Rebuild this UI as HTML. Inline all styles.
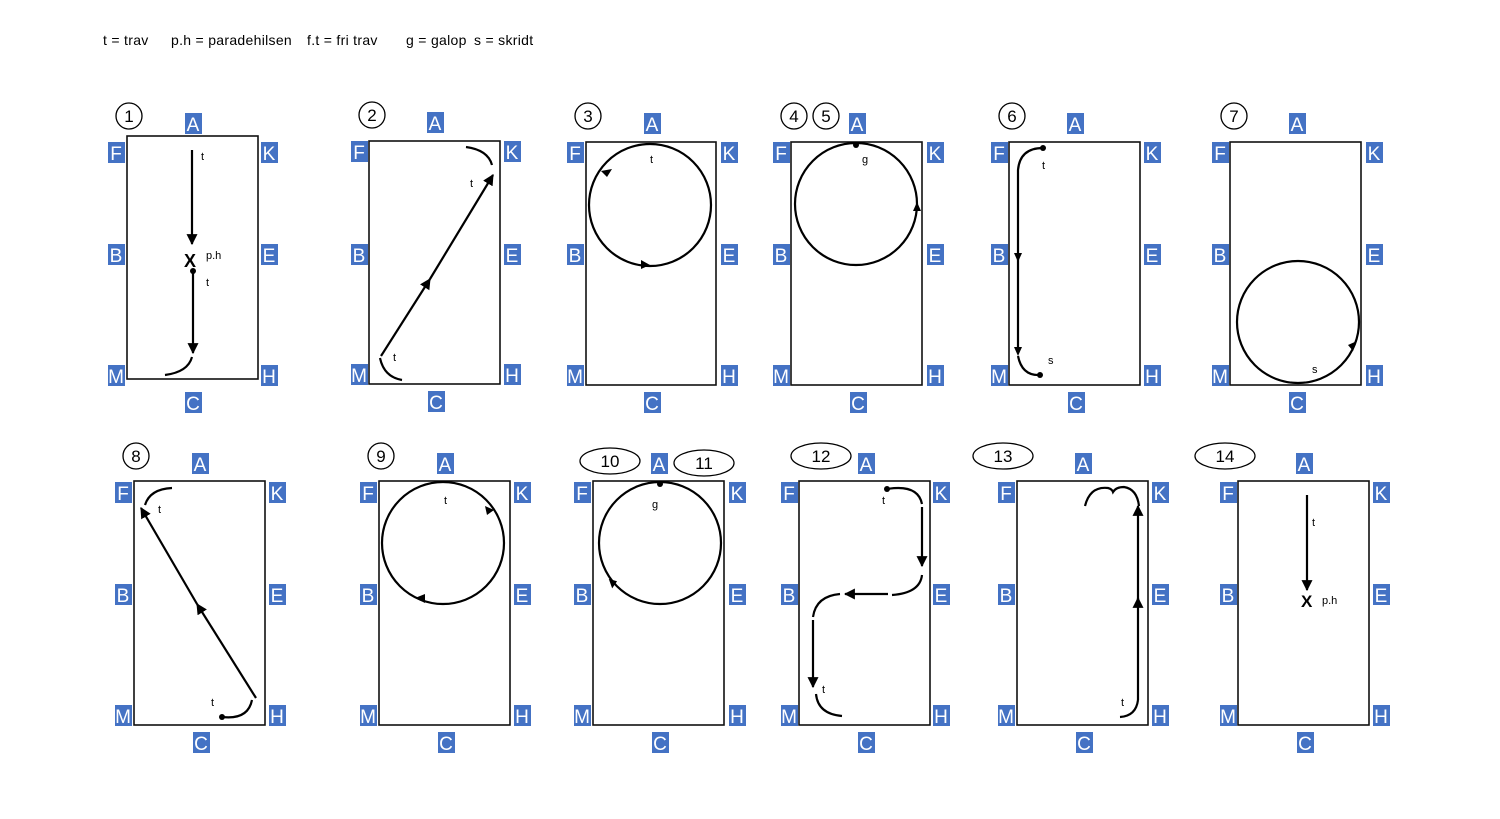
<!DOCTYPE html>
<html><head><meta charset="utf-8"><style>
html,body{margin:0;padding:0;background:#fff;width:1500px;height:819px;overflow:hidden}
svg{display:block}
.L rect{fill:#4472C4}
.L text{fill:#fff;font:19px "Liberation Sans",sans-serif;text-anchor:middle}
.s{fill:none;stroke:#000;stroke-width:2.2}
.r{fill:none;stroke:#111;stroke-width:1.6}
.t{font:11px "Liberation Sans",sans-serif;fill:#000}
.n{font:17px "Liberation Sans",sans-serif;text-anchor:middle}
</style></head><body>
<svg width="1500" height="819" viewBox="0 0 1500 819" xmlns="http://www.w3.org/2000/svg">
<defs>
<marker id="ar" viewBox="0 0 10 10" refX="9" refY="5" markerWidth="5" markerHeight="5" orient="auto"><path d="M0,0 L10,5 L0,10z" fill="#000"/></marker>
</defs>
<g font-family="Liberation Sans, sans-serif" font-size="14" letter-spacing="0.3">
<text x="103" y="45">t = trav</text>
<text x="171" y="45">p.h = paradehilsen</text>
<text x="307" y="45">f.t = fri trav</text>
<text x="406" y="45">g = galop</text>
<text x="474" y="45">s = skridt</text>
</g>

<!-- rectangles -->
<rect class="r" x="127" y="136" width="131" height="243"/>
<rect class="r" x="369" y="141" width="131" height="243"/>
<rect class="r" x="586" y="142" width="130" height="243"/>
<rect class="r" x="791" y="142" width="131" height="243"/>
<rect class="r" x="1009" y="142" width="131" height="243"/>
<rect class="r" x="1230" y="142" width="131" height="243"/>
<rect class="r" x="134" y="481" width="131" height="244"/>
<rect class="r" x="379" y="481" width="131" height="244"/>
<rect class="r" x="593" y="481" width="131" height="244"/>
<rect class="r" x="799" y="481" width="131" height="244"/>
<rect class="r" x="1017" y="481" width="131" height="244"/>
<rect class="r" x="1238" y="481" width="131" height="244"/>

<!-- labels row1 -->
<g class="L">
<rect x="185" y="113" width="17" height="21"/><text x="193" y="131">A</text>
<rect x="108" y="142" width="17" height="21"/><text x="116" y="160">F</text>
<rect x="261" y="142" width="17" height="21"/><text x="269" y="160">K</text>
<rect x="108" y="244" width="17" height="21"/><text x="116" y="262">B</text>
<rect x="261" y="244" width="17" height="21"/><text x="269" y="262">E</text>
<rect x="108" y="365" width="17" height="21"/><text x="116" y="383">M</text>
<rect x="261" y="365" width="17" height="21"/><text x="269" y="383">H</text>
<rect x="185" y="392" width="17" height="21"/><text x="193" y="410">C</text>

<rect x="427" y="112" width="17" height="21"/><text x="435" y="130">A</text>
<rect x="351" y="141" width="17" height="21"/><text x="359" y="159">F</text>
<rect x="504" y="141" width="17" height="21"/><text x="512" y="159">K</text>
<rect x="351" y="244" width="17" height="21"/><text x="359" y="262">B</text>
<rect x="504" y="244" width="17" height="21"/><text x="512" y="262">E</text>
<rect x="351" y="364" width="17" height="21"/><text x="359" y="382">M</text>
<rect x="504" y="364" width="17" height="21"/><text x="512" y="382">H</text>
<rect x="428" y="391" width="17" height="21"/><text x="436" y="409">C</text>

<rect x="644" y="113" width="17" height="21"/><text x="652" y="131">A</text>
<rect x="567" y="142" width="17" height="21"/><text x="575" y="160">F</text>
<rect x="721" y="142" width="17" height="21"/><text x="729" y="160">K</text>
<rect x="567" y="244" width="17" height="21"/><text x="575" y="262">B</text>
<rect x="721" y="244" width="17" height="21"/><text x="729" y="262">E</text>
<rect x="567" y="365" width="17" height="21"/><text x="575" y="383">M</text>
<rect x="721" y="365" width="17" height="21"/><text x="729" y="383">H</text>
<rect x="644" y="392" width="17" height="21"/><text x="652" y="410">C</text>

<rect x="849" y="113" width="17" height="21"/><text x="857" y="131">A</text>
<rect x="773" y="142" width="17" height="21"/><text x="781" y="160">F</text>
<rect x="927" y="142" width="17" height="21"/><text x="935" y="160">K</text>
<rect x="773" y="244" width="17" height="21"/><text x="781" y="262">B</text>
<rect x="927" y="244" width="17" height="21"/><text x="935" y="262">E</text>
<rect x="773" y="365" width="17" height="21"/><text x="781" y="383">M</text>
<rect x="927" y="365" width="17" height="21"/><text x="935" y="383">H</text>
<rect x="850" y="392" width="17" height="21"/><text x="858" y="410">C</text>

<rect x="1067" y="113" width="17" height="21"/><text x="1075" y="131">A</text>
<rect x="991" y="142" width="17" height="21"/><text x="999" y="160">F</text>
<rect x="1144" y="142" width="17" height="21"/><text x="1152" y="160">K</text>
<rect x="991" y="244" width="17" height="21"/><text x="999" y="262">B</text>
<rect x="1144" y="244" width="17" height="21"/><text x="1152" y="262">E</text>
<rect x="991" y="365" width="17" height="21"/><text x="999" y="383">M</text>
<rect x="1144" y="365" width="17" height="21"/><text x="1152" y="383">H</text>
<rect x="1068" y="392" width="17" height="21"/><text x="1076" y="410">C</text>

<rect x="1289" y="113" width="17" height="21"/><text x="1297" y="131">A</text>
<rect x="1212" y="142" width="17" height="21"/><text x="1220" y="160">F</text>
<rect x="1366" y="142" width="17" height="21"/><text x="1374" y="160">K</text>
<rect x="1212" y="244" width="17" height="21"/><text x="1220" y="262">B</text>
<rect x="1366" y="244" width="17" height="21"/><text x="1374" y="262">E</text>
<rect x="1212" y="365" width="17" height="21"/><text x="1220" y="383">M</text>
<rect x="1366" y="365" width="17" height="21"/><text x="1374" y="383">H</text>
<rect x="1289" y="392" width="17" height="21"/><text x="1297" y="410">C</text>
</g>

<!-- labels row2 -->
<g class="L">
<rect x="192" y="453" width="17" height="21"/><text x="200" y="471">A</text>
<rect x="115" y="482" width="17" height="21"/><text x="123" y="500">F</text>
<rect x="269" y="482" width="17" height="21"/><text x="277" y="500">K</text>
<rect x="115" y="584" width="17" height="21"/><text x="123" y="602">B</text>
<rect x="269" y="584" width="17" height="21"/><text x="277" y="602">E</text>
<rect x="115" y="705" width="17" height="21"/><text x="123" y="723">M</text>
<rect x="269" y="705" width="17" height="21"/><text x="277" y="723">H</text>
<rect x="193" y="732" width="17" height="21"/><text x="201" y="750">C</text>

<rect x="437" y="453" width="17" height="21"/><text x="445" y="471">A</text>
<rect x="360" y="482" width="17" height="21"/><text x="368" y="500">F</text>
<rect x="514" y="482" width="17" height="21"/><text x="522" y="500">K</text>
<rect x="360" y="584" width="17" height="21"/><text x="368" y="602">B</text>
<rect x="514" y="584" width="17" height="21"/><text x="522" y="602">E</text>
<rect x="360" y="705" width="17" height="21"/><text x="368" y="723">M</text>
<rect x="514" y="705" width="17" height="21"/><text x="522" y="723">H</text>
<rect x="438" y="732" width="17" height="21"/><text x="446" y="750">C</text>

<rect x="651" y="453" width="17" height="21"/><text x="659" y="471">A</text>
<rect x="574" y="482" width="17" height="21"/><text x="582" y="500">F</text>
<rect x="729" y="482" width="17" height="21"/><text x="737" y="500">K</text>
<rect x="574" y="584" width="17" height="21"/><text x="582" y="602">B</text>
<rect x="729" y="584" width="17" height="21"/><text x="737" y="602">E</text>
<rect x="574" y="705" width="17" height="21"/><text x="582" y="723">M</text>
<rect x="729" y="705" width="17" height="21"/><text x="737" y="723">H</text>
<rect x="652" y="732" width="17" height="21"/><text x="660" y="750">C</text>

<rect x="858" y="453" width="17" height="21"/><text x="866" y="471">A</text>
<rect x="781" y="482" width="17" height="21"/><text x="789" y="500">F</text>
<rect x="933" y="482" width="17" height="21"/><text x="941" y="500">K</text>
<rect x="781" y="584" width="17" height="21"/><text x="789" y="602">B</text>
<rect x="933" y="584" width="17" height="21"/><text x="941" y="602">E</text>
<rect x="781" y="705" width="17" height="21"/><text x="789" y="723">M</text>
<rect x="933" y="705" width="17" height="21"/><text x="941" y="723">H</text>
<rect x="858" y="732" width="17" height="21"/><text x="866" y="750">C</text>

<rect x="1075" y="453" width="17" height="21"/><text x="1083" y="471">A</text>
<rect x="998" y="482" width="17" height="21"/><text x="1006" y="500">F</text>
<rect x="1152" y="482" width="17" height="21"/><text x="1160" y="500">K</text>
<rect x="998" y="584" width="17" height="21"/><text x="1006" y="602">B</text>
<rect x="1152" y="584" width="17" height="21"/><text x="1160" y="602">E</text>
<rect x="998" y="705" width="17" height="21"/><text x="1006" y="723">M</text>
<rect x="1152" y="705" width="17" height="21"/><text x="1160" y="723">H</text>
<rect x="1076" y="732" width="17" height="21"/><text x="1084" y="750">C</text>

<rect x="1296" y="453" width="17" height="21"/><text x="1304" y="471">A</text>
<rect x="1220" y="482" width="17" height="21"/><text x="1228" y="500">F</text>
<rect x="1373" y="482" width="17" height="21"/><text x="1381" y="500">K</text>
<rect x="1220" y="584" width="17" height="21"/><text x="1228" y="602">B</text>
<rect x="1373" y="584" width="17" height="21"/><text x="1381" y="602">E</text>
<rect x="1220" y="705" width="17" height="21"/><text x="1228" y="723">M</text>
<rect x="1373" y="705" width="17" height="21"/><text x="1381" y="723">H</text>
<rect x="1297" y="732" width="17" height="21"/><text x="1305" y="750">C</text>
</g>

<!-- number circles -->
<g fill="none" stroke="#000" stroke-width="1.3">
<circle cx="129" cy="116" r="13"/><circle cx="372" cy="115" r="13"/><circle cx="588" cy="116" r="13"/>
<circle cx="794" cy="116" r="13"/><circle cx="826" cy="116" r="13"/><circle cx="1012" cy="116" r="13"/>
<circle cx="1234" cy="116" r="13"/><circle cx="136" cy="456" r="13"/><circle cx="381" cy="456" r="13"/>
<ellipse cx="610" cy="461" rx="30" ry="13"/><ellipse cx="704" cy="463" rx="30" ry="13"/>
<ellipse cx="821" cy="456" rx="30" ry="13"/><ellipse cx="1003" cy="456" rx="30" ry="13"/>
<ellipse cx="1225" cy="456" rx="30" ry="13"/>
</g>
<g class="n">
<text x="129" y="122">1</text><text x="372" y="121">2</text><text x="588" y="122">3</text>
<text x="794" y="122">4</text><text x="826" y="122">5</text><text x="1012" y="122">6</text>
<text x="1234" y="122">7</text><text x="136" y="462">8</text><text x="381" y="462">9</text>
<text x="610" y="467">10</text><text x="704" y="469">11</text><text x="821" y="462">12</text>
<text x="1003" y="462">13</text><text x="1225" y="462">14</text>
</g>

<!-- panel 1 -->
<line class="s" x1="192" y1="150" x2="192" y2="244" marker-end="url(#ar)"/>
<text x="184" y="267" font-family="Liberation Sans" font-size="18" font-weight="bold">X</text>
<circle cx="193" cy="271" r="3"/>
<line class="s" x1="193" y1="271" x2="193" y2="353" marker-end="url(#ar)"/>
<path class="s" d="M165,375 Q188,372 192,357"/>
<text class="t" x="201" y="160">t</text><text class="t" x="206" y="259">p.h</text><text class="t" x="206" y="286">t</text>

<!-- panel 2 -->
<line class="s" x1="430" y1="279" x2="493" y2="175" marker-end="url(#ar)"/>
<line class="s" x1="381" y1="356" x2="430" y2="279" marker-end="url(#ar)"/>
<path class="s" d="M466,147 Q488,150 492,165"/>
<path class="s" d="M380,358 Q384,377 402,380"/>
<text class="t" x="470" y="187">t</text><text class="t" x="393" y="361">t</text>

<!-- panel 3 -->
<circle class="s" cx="650" cy="205" r="61"/>
<path d="M601,171 l11,-2 l-5,8z"/><path d="M650,265 l-9,-5 l0,9z"/>
<text class="t" x="650" y="163">t</text>

<!-- panel 4 -->
<circle class="s" cx="856" cy="204" r="61"/>
<circle cx="856" cy="145" r="3"/>
<path d="M917,202 l-4,9 l8,0z"/>
<text class="t" x="862" y="163">g</text>

<!-- panel 6 -->
<circle cx="1043" cy="148" r="3"/>
<path class="s" d="M1043,148 Q1020,148 1018,170 L1018,350"/>
<path d="M1018,262 l-4,-9 l8,0z"/><path d="M1018,356 l-4,-9 l8,0z"/>
<path class="s" d="M1018,356 Q1022,376 1040,375"/>
<circle cx="1040" cy="375" r="3"/>
<text class="t" x="1042" y="169">t</text><text class="t" x="1048" y="364">s</text>

<!-- panel 7 -->
<circle class="s" cx="1298" cy="322" r="61"/>
<path d="M1357,341 l-9,4 l5,6z"/>
<text class="t" x="1312" y="373">s</text>

<!-- panel 8 -->
<line class="s" x1="197" y1="604" x2="141" y2="508" marker-end="url(#ar)"/>
<line class="s" x1="256" y1="698" x2="197" y2="604" marker-end="url(#ar)"/>
<path class="s" d="M145,505 Q150,489 172,488"/>
<path class="s" d="M222,717 Q248,720 252,700"/>
<circle cx="222" cy="717" r="3"/>
<text class="t" x="158" y="513">t</text><text class="t" x="211" y="706">t</text>

<!-- panel 9 -->
<circle class="s" cx="443" cy="543" r="61"/>
<path d="M494,510 l-9,-4 l2,9z"/><path d="M415,598 l10,-4 l0,9z"/>
<text class="t" x="444" y="504">t</text>

<!-- panel 10 -->
<circle class="s" cx="660" cy="543" r="61"/>
<circle cx="660" cy="484" r="3"/>
<path d="M610,578 l0,10 l7,-5z" transform="rotate(-20 612 582)"/>
<text class="t" x="652" y="508">g</text>

<!-- panel 12 -->
<circle cx="887" cy="489" r="3"/>
<path class="s" d="M887,489 Q918,484 922,504"/>
<line class="s" x1="922" y1="507" x2="922" y2="566" marker-end="url(#ar)"/>
<path class="s" d="M922,575 Q920,593 892,595"/>
<line class="s" x1="888" y1="594" x2="845" y2="594" marker-end="url(#ar)"/>
<path class="s" d="M840,594 Q816,596 813,617"/>
<line class="s" x1="813" y1="620" x2="813" y2="687" marker-end="url(#ar)"/>
<path class="s" d="M816,694 Q818,714 842,716"/>
<text class="t" x="882" y="504">t</text><text class="t" x="822" y="693">t</text>

<!-- panel 13 -->
<path class="s" d="M1085,506 Q1090,486 1108,488 Q1112,489 1113,492 Q1116,487 1124,487 Q1137,489 1139,506"/>
<line class="s" x1="1138" y1="600" x2="1138" y2="506" marker-end="url(#ar)"/>
<line class="s" x1="1138" y1="700" x2="1138" y2="598" marker-end="url(#ar)"/>
<path class="s" d="M1120,717 Q1136,716 1138,700"/>
<text class="t" x="1121" y="706">t</text>

<!-- panel 14 -->
<line class="s" x1="1307" y1="495" x2="1307" y2="590" marker-end="url(#ar)"/>
<text x="1301" y="607" font-family="Liberation Sans" font-size="17" font-weight="bold">X</text>
<text class="t" x="1322" y="604">p.h</text><text class="t" x="1312" y="526">t</text>
</svg>
</body></html>
